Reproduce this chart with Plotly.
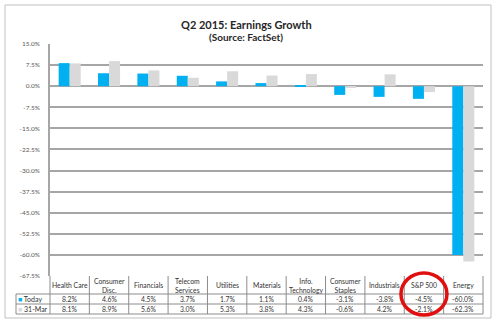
import plotly.graph_objects as go

categories = ["Health Care", "Consumer<br>Disc.", "Financials", "Telecom<br>Services", "Utilities",
              "Materials", "Info.<br>Technology", "Consumer<br>Staples", "Industrials", "S&P 500", "Energy"]
today = [8.2, 4.6, 4.5, 3.7, 1.7, 1.1, 0.4, -3.1, -3.8, -4.5, -60.0]
mar31 = [8.1, 8.9, 5.6, 3.0, 5.3, 3.8, 4.3, -0.6, 4.2, -2.1, -62.3]
series_names = ["Today", "31-Mar"]
tick_vals = [15.0, 7.5, 0.0, -7.5, -15.0, -22.5, -30.0, -37.5, -45.0, -52.5, -60.0, -67.5]
highlight = "S&P 500"

W, H = 498, 327
L, R, T, B = 50, 15, 44, 51
PW, PH = W - L - R, H - T - B
BLUE, GRAY = "#00B0F0", "#D9D9D9"
FONT = "Lato"
TXT = "#333333"
LINE = "#8C8C8C"

n = len(categories)
idx = list(range(n))

def px(xp):  # pixel -> paper x
    return (xp - L) / PW

def py(yp):  # pixel -> paper y
    return (H - B - yp) / PH

fig = go.Figure()
fig.add_trace(go.Bar(x=idx, y=today, name=series_names[0], marker=dict(color=BLUE, line=dict(width=0))))
fig.add_trace(go.Bar(x=idx, y=mar31, name=series_names[1], marker=dict(color=GRAY, line=dict(width=0))))

shapes = []
ann = []

# outer frame
shapes.append(dict(type="rect", xref="paper", yref="paper", x0=px(5), x1=px(491), y0=py(318), y1=py(5),
                   line=dict(color="#C0C0C0", width=1), layer="below"))

# title
ann.append(dict(xref="paper", yref="paper", x=px(246), y=py(16), text="<b>Q2 2015: Earnings Growth</b>",
                showarrow=False, font=dict(family=FONT, size=11, color="#262626")))
ann.append(dict(xref="paper", yref="paper", x=px(246), y=py(29), text="<b>(Source: FactSet)</b>",
                showarrow=False, font=dict(family=FONT, size=10, color="#262626")))

# table geometry (pixel rows)
hdr_top, hdr_bot, r1_bot, r2_bot = 276, 294, 304, 314
lab_left = 16

# horizontal lines
for yy in [hdr_bot, r1_bot, r2_bot]:
    shapes.append(dict(type="line", xref="paper", yref="paper", x0=px(lab_left), x1=1, y0=py(yy), y1=py(yy),
                       line=dict(color=LINE, width=1)))
# vertical lines at category boundaries
for i in range(n + 1):
    shapes.append(dict(type="line", xref="paper", yref="paper", x0=i / n, x1=i / n, y0=py(hdr_top), y1=py(r2_bot),
                       line=dict(color=LINE, width=1)))
shapes.append(dict(type="line", xref="paper", yref="paper", x0=px(lab_left), x1=px(lab_left), y0=py(hdr_bot), y1=py(r2_bot),
                   line=dict(color=LINE, width=1)))

def cell(x, y, text, size=6.8, xanchor="center"):
    ann.append(dict(xref="paper", yref="paper", x=x, y=y, text=text, showarrow=False, xanchor=xanchor,
                    yanchor="middle", borderpad=0, font=dict(family=FONT, size=size, color=TXT)))

# table text
for i, c in enumerate(categories):
    xc = (i + 0.5) / n
    cell(xc, py((hdr_top + hdr_bot) / 2), c)
    cell(xc, py((hdr_bot + r1_bot) / 2), f"{today[i]:.1f}%")
    cell(xc, py((r1_bot + r2_bot) / 2), f"{mar31[i]:.1f}%")

cell(px(lab_left + 1), py((hdr_bot + r1_bot) / 2), f"<span style='color:{BLUE}'>■</span> {series_names[0]}", 7, "left")
cell(px(lab_left + 1), py((r1_bot + r2_bot) / 2), f"<span style='color:{GRAY}'>■</span> {series_names[1]}", 7, "left")

# red circle around highlighted column
hi = categories.index(highlight)
cxd = (hi + 0.5) / n
shapes.append(dict(type="circle", xref="paper", yref="paper",
                   x0=cxd - 23 / PW, x1=cxd + 23 / PW, y0=py(315), y1=py(273),
                   line=dict(color="#E01010", width=3.5), layer="above"))

fig.update_layout(
    width=W, height=H, margin=dict(l=L, r=R, t=T, b=B),
    paper_bgcolor="white", plot_bgcolor="white",
    barmode="group", bargap=0.44, bargroupgap=0,
    showlegend=False,
    xaxis=dict(range=[-0.5, n - 0.5], showticklabels=False, showgrid=False, zeroline=False, showline=False,
               fixedrange=True),
    yaxis=dict(range=[tick_vals[-1], tick_vals[0]], tickvals=tick_vals,
               ticktext=[f"{v:.1f}%" for v in tick_vals],
               tickfont=dict(family=FONT, size=6.5, color="#595959"),
               showgrid=True, gridcolor="#A6A6A6", gridwidth=1.5,
               zeroline=True, zerolinecolor="#A6A6A6", zerolinewidth=1.5,
               showline=True, linecolor="#A6A6A6", linewidth=1.5,
               ticks="", ticklabelstandoff=7),
    shapes=shapes, annotations=ann,
)

fig.write_html("out.html")
